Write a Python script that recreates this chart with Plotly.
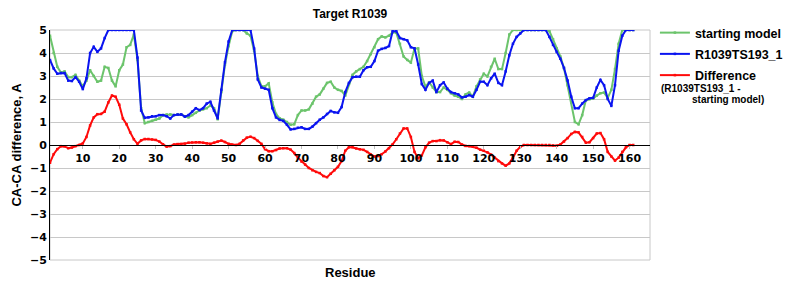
import plotly.graph_objects as go

residues = list(range(1, 162))

starting_model = [
    4.75, 4.0, 3.4, 3.15, 3.2, 2.95, 2.95, 3.05, 2.8, 2.55,
    2.8, 3.25, 3.0, 2.75, 2.8, 3.4, 3.35, 2.8, 2.55, 3.25,
    3.5, 4.25, 4.35, 4.8, 3.7, 1.6, 0.95, 1.0, 1.05, 1.1,
    1.15, 1.3, 1.33, 1.33, 1.3, 1.32, 1.33, 1.25, 1.2, 1.3,
    1.4, 1.5, 1.55, 1.6, 1.72, 1.6, 1.12, 2.3, 3.5, 4.3,
    4.95, 5.0, 5.0, 5.0, 4.85, 4.75, 4.1, 3.0, 2.55, 2.55,
    2.68, 1.85, 1.35, 1.16, 1.1, 1.0, 0.88, 0.9, 1.3, 1.5,
    1.5, 1.55, 1.8, 2.1, 2.2, 2.45, 2.7, 2.75, 2.5, 2.4,
    2.35, 2.15, 2.65, 3.05, 3.2, 3.3, 3.4, 3.65, 3.95, 4.25,
    4.6, 4.72, 4.68, 4.75, 4.9, 4.88, 4.4, 3.85, 3.7, 3.58,
    4.2, 4.2, 3.0, 2.54, 2.72, 2.5, 2.3, 2.3, 2.5, 2.4,
    2.25, 2.15, 2.1, 2.0, 2.2, 2.28, 2.1, 2.55, 2.85, 3.1,
    2.98, 3.4, 3.75, 3.3, 3.3, 4.0, 4.8, 5.0, 5.0, 5.0,
    5.0, 5.0, 5.0, 5.0, 5.0, 5.0, 5.0, 4.95, 4.6, 4.2,
    3.85, 3.35, 2.6, 1.85, 1.0, 0.9, 1.3, 1.95, 2.0, 2.02,
    2.15, 2.25, 2.28, 2.05, 2.4, 3.3, 4.4, 5.0, 5.0, 5.0,
    5.0,
]

model = [
    3.7, 3.33, 3.1, 3.13, 3.13, 2.8, 2.78, 2.95, 2.75, 2.43,
    2.9, 4.0, 4.27, 4.05, 4.2, 4.65, 5.0, 5.0, 5.0, 5.0,
    5.0, 5.0, 5.0, 5.0, 3.8, 1.5, 1.18, 1.2, 1.25, 1.25,
    1.3, 1.3, 1.25, 1.15, 1.3, 1.33, 1.33, 1.23, 1.3, 1.45,
    1.6, 1.52, 1.6, 1.8, 1.88, 1.5, 1.16, 2.4, 3.6, 4.5,
    5.0, 5.0, 5.0, 5.0, 5.0, 5.0, 4.2, 2.85, 2.5, 2.45,
    2.4, 1.6, 1.2, 1.09, 1.05, 0.88, 0.68, 0.7, 0.75, 0.77,
    0.7, 0.7, 0.8, 0.95, 1.1, 1.2, 1.35, 1.48, 1.42, 1.4,
    1.65, 2.3, 2.7, 2.95, 2.97, 2.97, 3.25, 3.38, 3.4, 3.65,
    4.1, 4.18, 4.22, 4.3, 4.95, 4.95, 4.65, 4.6, 4.55, 4.25,
    4.2, 3.5, 2.65, 2.4, 2.7, 2.8, 2.3, 2.6, 2.72, 2.45,
    2.3, 2.25, 2.2, 2.07, 2.1, 2.17, 2.1, 2.4, 2.75, 2.75,
    2.6, 2.9, 3.1, 2.7, 2.6, 3.2, 3.9, 4.4, 4.7, 4.85,
    5.0, 5.0, 5.0, 5.0, 5.0, 5.0, 5.0, 4.7, 4.35, 4.05,
    3.75, 3.35, 2.8, 2.1, 1.6, 1.6, 1.8, 1.95, 2.03, 2.05,
    2.5, 2.83, 2.6, 2.0, 1.7, 2.6, 4.1, 4.75, 5.0, 5.0,
    5.0,
]

difference = [
    -0.77, -0.4, -0.18, -0.05, -0.06, -0.14, -0.11, -0.05, 0.0, 0.07,
    0.35, 0.85, 1.2, 1.34, 1.35, 1.45, 1.85, 2.15, 2.1, 1.75,
    1.15, 0.9, 0.55, 0.25, 0.05, 0.2, 0.26, 0.26, 0.24, 0.22,
    0.15, 0.03, -0.07, -0.05, 0.02, 0.04, 0.04, 0.06, 0.1, 0.11,
    0.12, 0.12, 0.1, 0.07, 0.05, 0.1, 0.15, 0.19, 0.13, 0.05,
    0.02, 0.0, 0.05, 0.2, 0.32, 0.36, 0.3, 0.18, 0.05, -0.18,
    -0.27, -0.27, -0.22, -0.15, -0.14, -0.14, -0.2, -0.35, -0.55, -0.72,
    -0.85, -1.0, -1.1, -1.17, -1.22, -1.35, -1.4, -1.25, -1.1, -0.95,
    -0.7, -0.25, -0.1, -0.1, -0.15, -0.19, -0.21, -0.3, -0.42, -0.5,
    -0.48, -0.4, -0.28, -0.14, 0.03, 0.25, 0.5, 0.72, 0.72, 0.35,
    -0.3, -0.58, -0.45, -0.1, 0.1, 0.17, 0.17, 0.21, 0.2, 0.12,
    0.04, 0.14, 0.13, 0.02, -0.04, -0.05, -0.07, -0.12, -0.2, -0.25,
    -0.32, -0.42, -0.55, -0.7, -0.8, -0.9, -0.8, -0.55, -0.25, -0.08,
    0.0, 0.0, 0.0, 0.0, 0.0, 0.0, 0.0, 0.0, -0.02, -0.03,
    0.02, 0.15, 0.3, 0.48, 0.57, 0.55, 0.35, 0.1, 0.12, 0.3,
    0.5, 0.52, 0.25, -0.3, -0.5, -0.68, -0.55, -0.3, -0.1, 0.0,
    0.0,
]

x_ticks = list(range(10, 161, 10))
y_ticks = [5, 4, 3, 2, 1, 0, -1, -2, -3, -4, -5]

GREEN = "#6cc46c"
BLUE = "#0a14f0"
RED = "#ff0a0a"
TICKFONT = dict(family="DejaVu Sans", size=11, color="black", weight="bold")
ARIAL = "Liberation Sans"

fig = go.Figure()
for name, vals, col in [("starting model", starting_model, GREEN),
                        ("R1039TS193_1", model, BLUE),
                        ("Difference", difference, RED)]:
    fig.add_trace(go.Scatter(
        x=residues, y=vals, name=name, legendgroup=name, mode="lines+markers",
        line=dict(color=col, width=2),
        marker=dict(color=col, size=2.5, symbol="square"),
    ))

fig.update_layout(
    width=800, height=300,
    margin=dict(l=50, r=140, t=30, b=40),
    paper_bgcolor="white", plot_bgcolor="white",
    title=dict(text="<b>Target R1039</b>", x=0.5, xref="paper", xanchor="center",
               y=1 - 14 / 300, yanchor="middle",
               font=dict(family=ARIAL, size=12, color="black")),
    legend=dict(x=(665 - 50) / 610, xanchor="left", y=1 + 12 / 230, yanchor="top",
                font=dict(family=ARIAL, size=12.5, color="black", weight="bold"),
                itemwidth=30, bgcolor="rgba(0,0,0,0)", tracegroupgap=2),
    xaxis=dict(range=[1, 165.6], tickvals=x_ticks, anchor="free", position=0.5,
               showline=True, linecolor="black", linewidth=1,
               ticks="outside", ticklen=3, tickcolor="#c0c0c0",
               showgrid=False, zeroline=False, tickfont=TICKFONT),
    yaxis=dict(range=[-5, 5], tickvals=y_ticks, showline=True, linecolor="black",
               linewidth=1, showgrid=True, gridcolor="#c8c8c8", gridwidth=1,
               zeroline=False, ticks="", tickfont=TICKFONT),
    shapes=[dict(type="rect", xref="paper", yref="paper", x0=0, x1=1, y0=0, y1=1,
                 line=dict(color="#c8c8c8", width=1), layer="below")],
    annotations=[
        dict(text="<b>Residue</b>", xref="paper", yref="paper", x=0.5, y=-12 / 230,
             xanchor="center", yanchor="middle", showarrow=False,
             font=dict(family=ARIAL, size=13, color="black")),
        dict(text="<b>CA-CA difference, A</b>", xref="paper", yref="paper",
             x=(15 - 50) / 610, y=0.5, xanchor="center", yanchor="middle",
             textangle=-90, showarrow=False,
             font=dict(family=ARIAL, size=13, color="black")),
        dict(text="<b>(R1039TS193_1 -</b>", xref="paper", yref="paper",
             x=(669 - 50) / 610, y=(260 - 88) / 230, xanchor="left", yanchor="middle",
             showarrow=False, font=dict(family=ARIAL, size=10, color="black")),
        dict(text="<b>starting model)</b>", xref="paper", yref="paper",
             x=(701 - 50) / 610, y=(260 - 99) / 230, xanchor="left", yanchor="middle",
             showarrow=False, font=dict(family=ARIAL, size=10, color="black")),
    ],
)

fig.write_html("out.html")
